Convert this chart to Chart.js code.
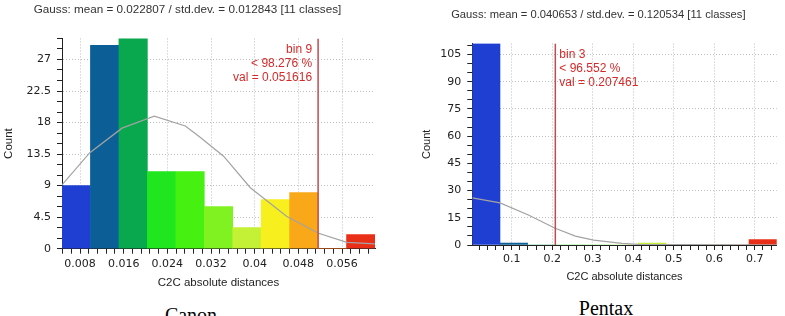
<!DOCTYPE html>
<html>
<head>
<meta charset="utf-8">
<script src="https://cdn.jsdelivr.net/npm/chart.js@4.4.1/dist/chart.umd.min.js"></script>
<style>
  html, body { margin: 0; padding: 0; background: #fff; }
  body { width: 785px; height: 316px; position: relative; overflow: hidden; }
  .panel { position: absolute; top: 0; }
  .caption { position: absolute; width: 100px; text-align: center;
             font-family: "Liberation Serif", "Times New Roman", serif;
             font-size: 20px; line-height: 20px; color: #000; }
</style>
</head>
<body>
<div class="panel" style="left:0;width:385px;height:300px"><canvas id="canon"></canvas></div>
<div class="panel" style="left:420px;width:365px;height:290px"><canvas id="pentax"></canvas></div>
<div class="caption" style="left:141px;top:305px">Canon</div>
<div class="caption" style="left:556px;top:298px">Pentax</div>
<script>
// histogram bins (11 classes, same colour ramp on both panels)
const binLabels = ["1", "2", "3", "4", "5", "6", "7", "8", "9", "10", "11"];
const binColors = ["#1f3fd2", "#0b5f96", "#09a84e", "#1fe61f", "#46f011", "#80f222",
                   "#c4f035", "#f7ef1e", "#f8a818", "#f06a14", "#ea2f18"];

// Canon
const canonTitle = "Gauss: mean = 0.022807 / std.dev. = 0.012843 [11 classes]";
const canonCounts = [9, 29, 30, 11, 11, 6, 3, 7, 8, 0, 2];
const canonXRange = [0.0047, 0.06204];
const canonYMax = 30;
const canonXTicks = [0.008, 0.016, 0.024, 0.032, 0.04, 0.048, 0.056];
const canonXTickLabels = ["0.008", "0.016", "0.024", "0.032", "0.04", "0.048", "0.056"];
const canonYTicks = [0, 4.5, 9, 13.5, 18, 22.5, 27];
const canonYTickLabels = ["0", "4.5", "9", "13.5", "18", "22.5", "27"];
const canonGaussX = [0.0047, 0.0098, 0.0157, 0.0216, 0.0273, 0.0300, 0.0343, 0.0392, 0.0459, 0.0517, 0.0569, 0.0620];
const canonGaussY = [9.1, 13.7, 17.2, 18.9, 17.5, 15.9, 13.2, 8.7, 4.6, 2.2, 0.9, 0.7];
const canonMarker = 0.051616;
const canonMarkerText = ["bin 9", "< 98.276 %", "val = 0.051616"];

// Pentax
const pentaxTitle = "Gauss: mean = 0.040653 / std.dev. = 0.120534 [11 classes]";
const pentaxCounts = [111, 1, 0, 0, 0, 0, 1, 0, 0, 0, 3];
const pentaxXRange = [0.0025, 0.754];
const pentaxYMax = 111;
const pentaxXTicks = [0.1, 0.2, 0.3, 0.4, 0.5, 0.6, 0.7];
const pentaxXTickLabels = ["0.1", "0.2", "0.3", "0.4", "0.5", "0.6", "0.7"];
const pentaxYTicks = [0, 15, 30, 45, 60, 75, 90, 105];
const pentaxYTickLabels = ["0", "15", "30", "45", "60", "75", "90", "105"];
const pentaxGaussX = [0.0025, 0.071, 0.141, 0.207, 0.257, 0.302, 0.372, 0.413, 0.754];
const pentaxGaussY = [26, 23.2, 16.5, 9.2, 4.9, 2.7, 0.9, 0.3, 0];
const pentaxMarker = 0.207461;
const pentaxMarkerText = ["bin 3", "< 96.552 %", "val = 0.207461"];

const FONT = "'Liberation Sans', Arial, sans-serif";
const TICK_FONT = "'DejaVu Sans', Verdana, sans-serif";

// labelled major ticks plus unlabelled minor ticks in between
function tickList(majors, labels, sub, lo, hi) {
  const step = (majors[1] - majors[0]) / sub;
  const out = [];
  const k0 = Math.ceil((lo - majors[0]) / step - 1e-9);
  const k1 = Math.floor((hi - majors[0]) / step + 1e-9);
  for (let k = k0; k <= k1; k++) {
    const v = majors[0] + k * step;
    const idx = k / sub;
    const isMajor = k % sub === 0 && idx >= 0 && idx < labels.length;
    out.push({ value: isMajor ? majors[idx] : v, text: isMajor ? labels[idx] : "" });
  }
  return out;
}

// red marker text next to the percentile line
const markerTextPlugin = {
  id: "markerText",
  afterDatasetsDraw(chart, args, opts) {
    const { ctx, chartArea } = chart;
    const px = chart.scales.x.getPixelForValue(opts.value);
    ctx.save();
    ctx.font = opts.size + "px " + FONT;
    ctx.fillStyle = "#d42a2a";
    ctx.textBaseline = "middle";
    ctx.textAlign = opts.side === "left" ? "right" : "left";
    const tx = opts.side === "left" ? px - 6 : px + 4;
    opts.lines.forEach((t, i) => ctx.fillText(t, tx, chartArea.top + opts.top + i * 14));
    ctx.restore();
  },
};

function makeHistogram(id, o) {
  const xt = tickList(o.xTicks, o.xTickLabels, 5, o.xRange[0], o.xRange[1]);
  const yt = tickList(o.yTicks, o.yTickLabels, 3, 0, o.yMax);
  const xGrid = (c) => (xt[c.index] && xt[c.index].text ? "#bdbdbd" : "rgba(0,0,0,0)");
  const yGrid = (c) => (yt[c.index] && yt[c.index].text ? "#bdbdbd" : "rgba(0,0,0,0)");

  return new Chart(document.getElementById(id), {
    type: "bar",
    data: {
      labels: binLabels,
      datasets: [
        {
          type: "line",
          xAxisID: "x",
          data: [{ x: o.marker, y: 0 }, { x: o.marker, y: o.yMax }],
          borderColor: "#c24a50",
          borderWidth: 1.5,
          pointRadius: 0,
          order: 1,
        },
        {
          type: "line",
          xAxisID: "x",
          data: o.gaussX.map((x, i) => ({ x: x, y: o.gaussY[i] })),
          borderColor: "#a3a3a3",
          borderWidth: 1.2,
          pointRadius: 0,
          tension: 0,
          order: 2,
        },
        {
          xAxisID: "xb",
          data: o.counts,
          backgroundColor: binColors,
          borderWidth: 0,
          grouped: false,
          barPercentage: 1,
          categoryPercentage: 1,
          order: 3,
        },
      ],
    },
    options: {
      responsive: true,
      maintainAspectRatio: false,
      animation: false,
      layout: { padding: { left: 0, right: o.padRight, top: 0, bottom: 0 } },
      plugins: {
        legend: { display: false },
        tooltip: { enabled: false },
        title: {
          display: true,
          text: o.title,
          color: "#333",
          font: { family: FONT, size: o.titleSize, weight: "normal" },
          padding: { top: o.titleTop, bottom: o.titleBottom },
        },
        markerText: { value: o.marker, lines: o.markerText, side: o.markerSide, top: 11, size: 12 },
      },
      scales: {
        xb: { type: "category", display: false, offset: true, grid: { display: false } },
        x: {
          type: "linear",
          position: "bottom",
          offset: false,
          min: o.xRange[0],
          max: o.xRange[1],
          afterBuildTicks: (s) => { s.ticks = xt.map((t) => Object.assign({}, t)); },
          afterFit: (s) => { s.height = o.xAxisHeight; },
          ticks: {
            autoSkip: false,
            maxRotation: 0,
            padding: o.xTickPad,
            color: "#222",
            font: { family: TICK_FONT, size: 11 },
            callback: (v, i, ticks) => ticks[i].text,
          },
          grid: { offset: false, color: xGrid, lineWidth: 1, tickLength: 5, tickColor: "#222", tickWidth: 1 },
          border: { display: true, color: "#222", width: 1, dash: [1, 2] },
          title: {
            display: true,
            text: "C2C absolute distances",
            color: "#222",
            font: { family: FONT, size: o.labelSize },
            padding: { top: 0, bottom: o.xTitleBottom },
          },
        },
        y: {
          min: 0,
          max: o.yMax,
          afterBuildTicks: (s) => { s.ticks = yt.map((t) => Object.assign({}, t)); },
          afterFit: (s) => { s.width = o.yAxisWidth; },
          ticks: {
            autoSkip: false,
            padding: 6,
            color: "#222",
            font: { family: TICK_FONT, size: 11 },
            callback: (v, i, ticks) => ticks[i].text,
          },
          grid: { color: yGrid, lineWidth: 1, tickLength: 5, tickColor: "#222", tickWidth: 1 },
          border: { display: true, color: "#222", width: 1, dash: [1, 2] },
          title: {
            display: true,
            text: "Count",
            color: "#222",
            font: { family: FONT, size: o.labelSize },
            padding: { top: o.yTitleLeft, bottom: 0 },
          },
        },
      },
    },
    plugins: [markerTextPlugin],
  });
}

makeHistogram("canon", {
  title: canonTitle, counts: canonCounts, xRange: canonXRange, yMax: canonYMax,
  xTicks: canonXTicks, xTickLabels: canonXTickLabels, yTicks: canonYTicks, yTickLabels: canonYTickLabels,
  gaussX: canonGaussX, gaussY: canonGaussY, marker: canonMarker, markerText: canonMarkerText,
  markerSide: "left", titleSize: 11.7, labelSize: 11.5,
  padRight: 10, titleTop: 3.2, titleBottom: 21.2,
  xAxisHeight: 51.3, xTickPad: 4, xTitleBottom: 10.4, yAxisWidth: 62, yTitleLeft: 2,
});

makeHistogram("pentax", {
  title: pentaxTitle, counts: pentaxCounts, xRange: pentaxXRange, yMax: pentaxYMax,
  xTicks: pentaxXTicks, xTickLabels: pentaxXTickLabels, yTicks: pentaxYTicks, yTickLabels: pentaxYTickLabels,
  gaussX: pentaxGaussX, gaussY: pentaxGaussY, marker: pentaxMarker, markerText: pentaxMarkerText,
  markerSide: "right", titleSize: 11.2, labelSize: 11,
  padRight: 8.3, titleTop: 8.4, titleBottom: 21.7,
  xAxisHeight: 45, xTickPad: 3, xTitleBottom: 6.7, yAxisWidth: 52.3, yTitleLeft: 0,
});
</script>
</body>
</html>
